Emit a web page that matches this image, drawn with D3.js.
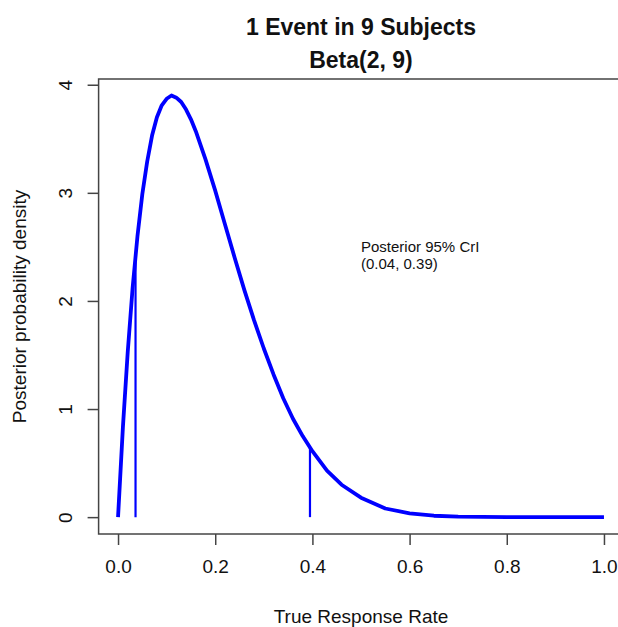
<!DOCTYPE html>
<meta charset="utf-8">
<script src="https://d3js.org/d3.v7.min.js"></script>
<style>
    body { margin: 0; background: white; }
    text { font-family: "Liberation Sans", Arial, sans-serif; fill: #111; }
</style>
<div id="chart"></div>
<script>
    // response rate grid and posterior density
    var rate = [0, 0.01, 0.02, 0.03, 0.04, 0.05, 0.06, 0.07, 0.08, 0.09, 0.10, 0.11, 0.12, 0.13, 0.14, 0.15,
        0.16, 0.18, 0.20, 0.22, 0.24, 0.26, 0.28, 0.30, 0.32, 0.34, 0.36, 0.38, 0.40, 0.43, 0.46,
        0.50, 0.55, 0.60, 0.65, 0.70, 0.80, 0.90, 1.0];
    var density = [0, 0.83, 1.53, 2.12, 2.60, 2.99, 3.29, 3.53, 3.70, 3.81, 3.87, 3.90, 3.88, 3.84, 3.77, 3.68,
        3.57, 3.31, 3.02, 2.71, 2.40, 2.10, 1.82, 1.56, 1.32, 1.10, 0.91, 0.75, 0.61, 0.43, 0.30,
        0.18, 0.08, 0.035, 0.013, 0.004, 0, 0, 0];
    // credible interval bounds (x) and curve height there
    var criX = [0.036, 0.395];
    var criY = [2.42, 0.64];
    var xTicks = [0, 0.2, 0.4, 0.6, 0.8, 1.0];
    var yTicks = [0, 1, 2, 3, 4];
    var titleLines = ['1 Event in 9 Subjects', 'Beta(2, 9)'];
    var noteLines = ['Posterior 95% CrI', '(0.04, 0.39)'];

    var width = 618, height = 627;
    var axisCol = '#444';

    var svg = d3.select('#chart').append('svg')
        .attr('width', width)
        .attr('height', height);

    // R style 4% padding on both axes
    var x = d3.scaleLinear().domain([-0.04, 1.04]).range([98.6, 623.4]);
    var y = d3.scaleLinear().domain([-0.156, 4.053]).range([534, 79]);

    // plot box (right side runs off the picture)
    svg.append('rect')
        .attr('x', x(-0.04)).attr('y', y(4.053))
        .attr('width', x(1.04) - x(-0.04))
        .attr('height', y(-0.156) - y(4.053))
        .attr('fill', 'none')
        .attr('stroke', axisCol)
        .attr('stroke-width', 1.5);

    var xAxis = svg.append('g')
        .attr('transform', 'translate(0,' + y(-0.156) + ')')
        .call(d3.axisBottom(x).tickValues(xTicks).tickSize(11).tickPadding(15)
            .tickFormat(d3.format('.1f')));
    xAxis.select('.domain').remove();
    xAxis.selectAll('line').attr('stroke', axisCol).attr('stroke-width', 1.5);
    xAxis.selectAll('text').attr('font-size', 19).attr('fill', '#111')
        .attr('font-family', '"Liberation Sans", Arial, sans-serif');

    var yAxis = svg.append('g')
        .attr('transform', 'translate(' + x(-0.04) + ',0)')
        .call(d3.axisLeft(y).tickValues(yTicks).tickSize(11).tickFormat(d3.format('d')));
    yAxis.select('.domain').remove();
    yAxis.selectAll('line').attr('stroke', axisCol).attr('stroke-width', 1.5);
    yAxis.selectAll('text')
        .attr('font-size', 19).attr('fill', '#111')
        .attr('font-family', '"Liberation Sans", Arial, sans-serif')
        .attr('x', null).attr('dy', null)
        .attr('text-anchor', 'middle')
        .attr('transform', 'translate(' + (72 - x(-0.04)) + ',0) rotate(-90)');

    // density curve
    var pts = rate.map(function(r, i) { return [r, density[i]]; });
    svg.append('path')
        .datum(pts)
        .attr('fill', 'none')
        .attr('stroke', '#0000ff')
        .attr('stroke-width', 3.8)
        .attr('stroke-linejoin', 'round')
        .attr('d', d3.line().x(d => x(d[0])).y(d => y(d[1])));

    // credible interval markers
    svg.selectAll('.cri').data(criX).enter().append('line')
        .attr('x1', d => x(d)).attr('x2', d => x(d))
        .attr('y1', y(0))
        .attr('y2', (d, i) => y(criY[i]))
        .attr('stroke', '#0000ff')
        .attr('stroke-width', 2.2);

    // title
    svg.selectAll('.title').data(titleLines).enter().append('text')
        .attr('x', 361).attr('y', (d, i) => 35 + i * 33)
        .attr('text-anchor', 'middle')
        .attr('font-size', 23).attr('font-weight', 'bold')
        .text(d => d);

    // annotation
    svg.selectAll('.note').data(noteLines).enter().append('text')
        .attr('x', x(0.5)).attr('y', (d, i) => 252 + i * 16.5)
        .attr('font-size', 15)
        .text(d => d);

    svg.append('text')
        .attr('x', 361).attr('y', 623)
        .attr('text-anchor', 'middle')
        .attr('font-size', 19)
        .text('True Response Rate');

    svg.append('text')
        .attr('transform', 'translate(26,306.5) rotate(-90)')
        .attr('text-anchor', 'middle')
        .attr('font-size', 19)
        .text('Posterior probability density');
</script>
